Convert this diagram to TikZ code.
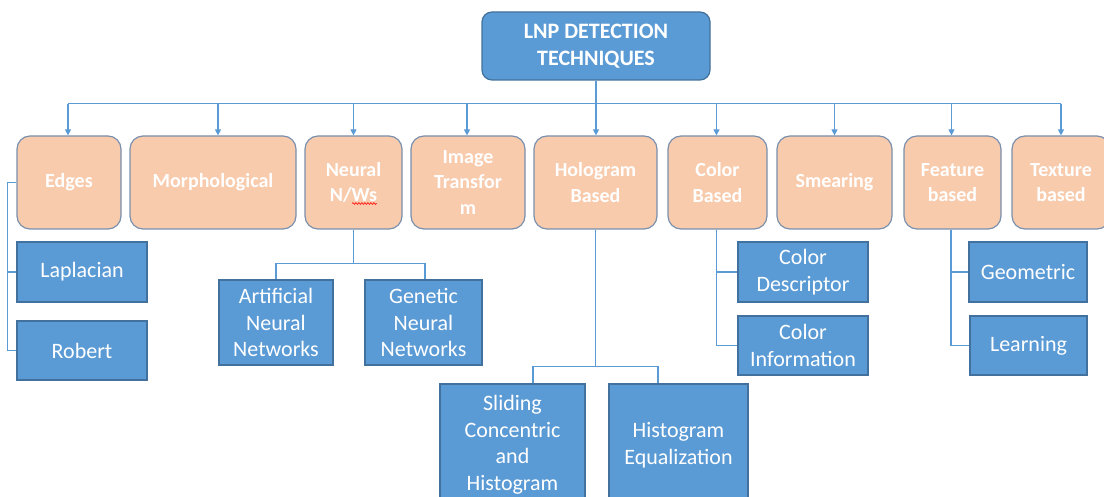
\documentclass[tikz,border=0pt]{standalone}
\usepackage{fontspec}
\setmainfont{Carlito}
\usetikzlibrary{arrows.meta,calc,decorations.pathmorphing}

\definecolor{catfill}{HTML}{F8CBAD}
\definecolor{catline}{HTML}{7A90AD}
\definecolor{leaffill}{HTML}{5B9BD5}
\definecolor{leafline}{HTML}{41719C}
\definecolor{wirecol}{HTML}{5B9BD5}

\tikzset{
  rootbox/.style={draw=leafline, fill=leaffill, line width=1.2pt, rounded corners=10pt,
    text=white, font=\bfseries\fontsize{22}{27}\selectfont, align=center, inner sep=0pt},
  catbox/.style={draw=catline, fill=catfill, line width=1.2pt, rounded corners=13pt,
    text=white, font=\bfseries\fontsize{20}{25.5}\selectfont, align=center, inner sep=0pt},
  leaf/.style={draw=leafline, fill=leaffill, line width=1.2pt,
    text=white, font=\fontsize{22}{26.5}\selectfont, align=center, inner sep=0pt},
  wire/.style={draw=wirecol, line width=1.1pt},
  arr/.style={wire, -{Triangle[length=6pt,width=6pt]}},
  squiggle/.style={draw=red, line width=0.6pt, decorate,
    decoration={snake, amplitude=0.9pt, segment length=3pt}}
}

\begin{document}
\begin{tikzpicture}[x=1pt, y=-1pt]
\useasboundingbox (0,0) rectangle (1104,497);
\clip (0,0) rectangle (1104,497);

% root
\node[rootbox, minimum width=228pt, minimum height=68pt] (root) at (596,46)
  {LNP DETECTION\\TECHNIQUES};

% categories
\node[catbox, minimum width=104pt, minimum height=93pt] (edges)   at (69,182.5)   {Edges};
\node[catbox, minimum width=166pt, minimum height=93pt] (morph)   at (213,182.5)  {Morphological};
\node[catbox, minimum width=97pt,  minimum height=93pt] (neural)  at (353.5,182.5){Neural\\N/Ws};
\node[catbox, minimum width=114pt, minimum height=93pt] (image)   at (468,182.5)  {Image\\Transfor\\m};
\node[catbox, minimum width=123pt, minimum height=93pt] (holo)    at (595.5,182.5){Hologram\\Based};
\node[catbox, minimum width=99pt,  minimum height=93pt] (color)   at (717.5,182.5){Color\\Based};
\node[catbox, minimum width=115pt, minimum height=93pt] (smear)   at (834.5,182.5){Smearing};
\node[catbox, minimum width=97pt,  minimum height=93pt] (feature) at (952.5,182.5){Feature\\based};
\node[catbox, minimum width=98pt,  minimum height=93pt] (texture) at (1061,182.5) {Texture\\based};

% spell-check squiggle under "Ws"
\draw[squiggle] ($(neural.center)+(-1.5,21)$) -- ($(neural.center)+(23,21)$);

% leaves
\node[leaf, minimum width=130pt, minimum height=60pt]  (lap)    at (82,272)     {Laplacian};
\node[leaf, minimum width=130pt, minimum height=59pt]  (rob)    at (82,350.5)   {Robert};
\node[leaf, minimum width=114pt, minimum height=85pt]  (ann)    at (276,322.5)  {Artificial\\Neural\\Networks};
\node[leaf, minimum width=117pt, minimum height=85pt]  (gnn)    at (423.5,322.5){Genetic\\Neural\\Networks};
\node[leaf, minimum width=145pt, minimum height=122pt] (slide)  at (512.5,445)  {Sliding\\Concentric\\and\\Histogram};
\node[leaf, minimum width=139pt, minimum height=122pt] (histeq) at (678.5,445)  {Histogram\\Equalization};
\node[leaf, minimum width=130pt, minimum height=60pt]  (cdesc)  at (803,272)    {Color\\Descriptor};
\node[leaf, minimum width=130pt, minimum height=59pt]  (cinfo)  at (803,345.5)  {Color\\Information};
\node[leaf, minimum width=118pt, minimum height=60pt]  (geom)   at (1028,272)   {Geometric};
\node[leaf, minimum width=117pt, minimum height=59pt]  (learn)  at (1028.5,345.5){Learning};

% bus from the root
\draw[wire] (root.south) -- ++(0,23) coordinate (bus);
\draw[wire] ([xshift=-1pt]edges.north |- bus) -- (texture.north |- bus);
\draw[arr] ([xshift=-1pt]edges.north |- bus) -- ([xshift=-1pt]edges.north);
\draw[arr] ([xshift=5pt]morph.north |- bus) -- ([xshift=5pt]morph.north);
\draw[arr] (neural.north |- bus) -- (neural.north);
\draw[arr] ([xshift=-1pt]image.north |- bus) -- ([xshift=-1pt]image.north);
\draw[arr] (bus) -- (root.south |- holo.north);
\draw[arr] ([xshift=-1pt]color.north |- bus) -- ([xshift=-1pt]color.north);
\draw[arr] (smear.north |- bus) -- (smear.north);
\draw[arr] ([xshift=-1pt]feature.north |- bus) -- ([xshift=-1pt]feature.north);
\draw[arr] (texture.north |- bus) -- (texture.north);

% Edges branch
\draw[wire] (edges.west) -- ++(-9,0) coordinate (ej) |- (rob.west);
\draw[wire] (ej) |- (lap.west);

% Neural branch
\draw[wire] (neural.south) -- ++(0,33.5) coordinate (nj);
\draw[wire] (ann.north) |- (nj) -| ([xshift=1.5pt]gnn.north);

% Hologram branch
\draw[wire] (holo.south) -- ++(0,136.5) coordinate (hj);
\draw[wire] ([xshift=20.5pt]slide.north) |- (hj) -| ([xshift=-20.5pt]histeq.north);

% Color branch
\draw[wire] ([xshift=-1pt]color.south) coordinate (cj) |- (cinfo.west);
\draw[wire] (cj) |- (cdesc.west);

% Feature branch
\draw[wire] ([xshift=-1.5pt]feature.south) coordinate (fj) |- (learn.west);
\draw[wire] (fj) |- (geom.west);
\end{tikzpicture}
\end{document}
